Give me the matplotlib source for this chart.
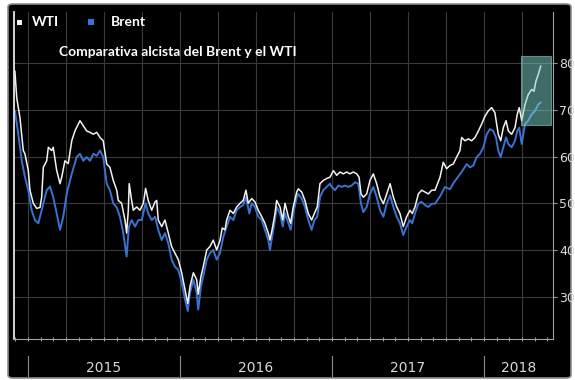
import matplotlib.pyplot as plt
from matplotlib.patches import Rectangle, FancyBboxPatch

# fechas en años decimales, precios en $/barril
wti_t = [2014.914, 2014.926, 2014.947, 2014.969, 2014.980, 2015.002, 2015.013, 2015.035, 2015.057, 2015.079,
         2015.090, 2015.101, 2015.123, 2015.134, 2015.156, 2015.166, 2015.189, 2015.211, 2015.222, 2015.243,
         2015.265, 2015.288, 2015.309, 2015.342, 2015.364, 2015.386, 2015.408, 2015.430, 2015.452, 2015.474,
         2015.495, 2015.518, 2015.539, 2015.561, 2015.584, 2015.594, 2015.616, 2015.638, 2015.649, 2015.660,
         2015.666, 2015.682, 2015.693, 2015.715, 2015.737, 2015.759, 2015.774, 2015.791, 2015.814, 2015.836,
         2015.847, 2015.857, 2015.880, 2015.901, 2015.923, 2015.945, 2015.967, 2015.989, 2016.011, 2016.033,
         2016.051, 2016.066, 2016.088, 2016.110, 2016.120, 2016.138, 2016.153, 2016.176, 2016.197, 2016.219,
         2016.241, 2016.263, 2016.278, 2016.296, 2016.307, 2016.329, 2016.351, 2016.373, 2016.395, 2016.416,
         2016.434, 2016.449, 2016.472, 2016.493, 2016.515, 2016.538, 2016.559, 2016.581, 2016.592, 2016.610,
         2016.625, 2016.636, 2016.658, 2016.676, 2016.691, 2016.713, 2016.728, 2016.745, 2016.768, 2016.778,
         2016.801, 2016.822, 2016.844, 2016.866, 2016.884, 2016.903, 2016.921, 2016.943, 2016.965, 2016.987,
         2017.009, 2017.031, 2017.053, 2017.074, 2017.097, 2017.118, 2017.140, 2017.163, 2017.178, 2017.191,
         2017.206, 2017.228, 2017.250, 2017.272, 2017.294, 2017.316, 2017.338, 2017.360, 2017.382, 2017.404,
         2017.426, 2017.447, 2017.469, 2017.491, 2017.513, 2017.528, 2017.546, 2017.568, 2017.590, 2017.612,
         2017.634, 2017.656, 2017.678, 2017.711, 2017.732, 2017.754, 2017.776, 2017.798, 2017.820, 2017.842,
         2017.853, 2017.875, 2017.897, 2017.919, 2017.941, 2017.963, 2017.985, 2018.007, 2018.028, 2018.051,
         2018.072, 2018.083, 2018.094, 2018.110, 2018.127, 2018.145, 2018.160, 2018.182, 2018.204, 2018.219,
         2018.232, 2018.248, 2018.270, 2018.291, 2018.314, 2018.329, 2018.342, 2018.357, 2018.373]
wti = [78.3, 72.6, 68.4, 61.3, 60.6, 57.0, 52.8, 50.0, 48.9, 49.1,
       51.3, 57.7, 59.1, 62.0, 61.3, 62.0, 57.0, 54.2, 55.6, 59.1,
       58.5, 63.4, 65.5, 67.7, 66.6, 65.5, 65.2, 64.8, 65.2, 64.1,
       63.4, 58.4, 57.7, 54.9, 52.8, 50.6, 50.0, 46.4, 43.6, 48.5,
       54.2, 50.6, 48.5, 49.2, 48.5, 50.0, 53.2, 50.6, 48.5, 50.3,
       50.6, 46.4, 45.0, 46.4, 43.6, 40.7, 39.3, 37.9, 35.1, 31.5,
       28.5, 32.2, 35.1, 33.6, 30.5, 34.3, 36.4, 40.0, 40.7, 42.1,
       40.0, 42.0, 44.7, 44.3, 46.4, 48.5, 47.8, 49.2, 50.0, 50.6,
       52.8, 50.0, 51.0, 50.3, 48.5, 47.1, 45.7, 43.6, 42.1, 45.0,
       47.8, 50.6, 49.2, 46.4, 50.0, 47.1, 45.7, 49.2, 52.4, 53.1,
       52.4, 50.6, 47.8, 46.4, 47.8, 49.2, 54.2, 54.9, 55.3, 55.6,
       57.0, 56.0, 56.7, 56.3, 56.7, 56.3, 56.7, 56.3, 55.6, 52.0,
       51.3, 52.0, 54.9, 56.3, 54.2, 51.3, 49.9, 52.0, 54.2, 51.3,
       49.2, 47.8, 45.0, 47.1, 48.5, 47.8, 49.2, 52.0, 52.8, 52.4,
       52.0, 52.8, 52.8, 55.6, 58.8, 57.4, 58.1, 58.4, 59.9, 61.3,
       64.1, 63.4, 63.8, 63.4, 64.1, 65.5, 67.0, 68.7, 69.8, 70.5,
       69.4, 67.0, 64.8, 63.4, 66.2, 67.7, 65.5, 64.8, 66.2, 69.1,
       70.5, 67.7, 71.2, 73.3, 74.4, 74.0, 76.2, 77.6, 79.4]

brent_t = [2014.914, 2014.936, 2014.959, 2014.980, 2015.002, 2015.024, 2015.046, 2015.068, 2015.090, 2015.123,
           2015.145, 2015.166, 2015.189, 2015.211, 2015.232, 2015.255, 2015.288, 2015.320, 2015.342, 2015.364,
           2015.386, 2015.408, 2015.430, 2015.452, 2015.474, 2015.495, 2015.518, 2015.539, 2015.561, 2015.584,
           2015.605, 2015.627, 2015.649, 2015.664, 2015.682, 2015.704, 2015.726, 2015.748, 2015.774, 2015.791,
           2015.814, 2015.836, 2015.857, 2015.880, 2015.901, 2015.923, 2015.945, 2015.967, 2015.989, 2016.011,
           2016.033, 2016.051, 2016.066, 2016.088, 2016.110, 2016.120, 2016.138, 2016.153, 2016.176, 2016.197,
           2016.219, 2016.241, 2016.263, 2016.285, 2016.307, 2016.329, 2016.351, 2016.373, 2016.395, 2016.416,
           2016.434, 2016.456, 2016.472, 2016.493, 2016.515, 2016.538, 2016.559, 2016.581, 2016.592, 2016.610,
           2016.625, 2016.636, 2016.658, 2016.676, 2016.691, 2016.713, 2016.728, 2016.745, 2016.768, 2016.778,
           2016.801, 2016.822, 2016.844, 2016.866, 2016.884, 2016.903, 2016.921, 2016.943, 2016.965, 2016.987,
           2016.998, 2017.020, 2017.042, 2017.064, 2017.086, 2017.107, 2017.130, 2017.151, 2017.173, 2017.191,
           2017.206, 2017.228, 2017.250, 2017.272, 2017.294, 2017.316, 2017.338, 2017.360, 2017.382, 2017.404,
           2017.426, 2017.447, 2017.469, 2017.491, 2017.513, 2017.528, 2017.546, 2017.568, 2017.590, 2017.612,
           2017.634, 2017.656, 2017.678, 2017.711, 2017.743, 2017.776, 2017.803, 2017.853, 2017.886, 2017.908,
           2017.930, 2017.952, 2017.974, 2017.996, 2018.018, 2018.039, 2018.061, 2018.079, 2018.094, 2018.110,
           2018.127, 2018.145, 2018.160, 2018.182, 2018.204, 2018.219, 2018.232, 2018.248, 2018.270, 2018.291,
           2018.314, 2018.336, 2018.357, 2018.373]
brent = [69.8, 64.9, 59.1, 55.6, 52.8, 48.5, 46.4, 45.7, 48.5, 52.8,
         53.6, 51.3, 47.8, 44.3, 47.1, 52.1, 56.3, 59.9, 60.6, 59.1,
         59.9, 59.1, 60.6, 60.2, 61.3, 59.9, 54.2, 52.8, 50.0, 49.1,
         47.1, 43.6, 38.6, 45.0, 46.4, 45.0, 46.4, 46.4, 50.0, 47.8,
         46.4, 47.1, 44.3, 42.1, 43.6, 41.4, 37.9, 36.4, 35.7, 33.0,
         29.4, 26.9, 30.8, 33.6, 30.8, 27.2, 32.2, 34.3, 37.9, 39.3,
         40.0, 37.9, 39.3, 42.8, 45.0, 47.1, 46.4, 48.5, 49.2, 49.6,
         51.3, 47.8, 50.0, 49.2, 47.1, 46.4, 44.3, 42.1, 40.0, 43.6,
         46.4, 49.2, 47.8, 45.0, 47.8, 45.7, 44.3, 47.8, 51.3, 52.0,
         51.0, 49.2, 46.4, 44.3, 46.4, 47.1, 51.3, 52.8, 53.5, 54.2,
         53.5, 52.8, 53.8, 53.5, 53.8, 53.5, 53.8, 54.5, 54.2, 49.9,
         48.1, 49.2, 52.0, 53.5, 51.3, 48.5, 47.1, 49.9, 51.7, 49.2,
         47.1, 45.7, 43.2, 45.0, 46.4, 45.7, 47.8, 49.9, 50.3, 49.6,
         49.2, 49.9, 49.9, 51.5, 53.5, 53.0, 54.5, 56.7, 58.4, 57.7,
         58.1, 59.9, 60.6, 62.0, 64.8, 65.9, 65.5, 64.1, 61.3, 59.9,
         62.0, 64.1, 62.7, 62.0, 63.4, 65.5, 66.2, 62.7, 67.0, 67.7,
         69.1, 69.8, 71.2, 71.6]

years = [2015, 2016, 2017, 2018]
y_ticks = [30, 40, 50, 60, 70, 80]
titulo = 'Comparativa alcista del Brent y el WTI'

x_min, x_max = 2014.908, 2018.454
y_min, y_max = 20.9, 91.0

W, H = 575, 380
narrow = ['Liberation Sans Narrow', 'DejaVu Sans']

fig = plt.figure(figsize=(W / 100, H / 100), dpi=100)
fig.patch.set_facecolor('white')

# marco negro de fondo
fondo = FancyBboxPatch((8 / W, 2 / H), 563 / W, 374 / H,
                       boxstyle='round,pad=0,rounding_size=0.008',
                       transform=fig.transFigure, fc='black', ec='#8c8c8c',
                       lw=1.2, zorder=-1)
fig.patches.append(fondo)

ax = fig.add_axes([14 / W, 41 / H, 539 / W, 327 / H])
ax.set_facecolor('black')
ax.set_xlim(x_min, x_max)
ax.set_ylim(y_min, y_max)

# rejilla trimestral y cada 10 $
quarters = [y + q / 4 for y in range(2015, 2019) for q in range(4) if y + q / 4 < x_max]
months = [y + m / 12 for y in range(2014, 2019) for m in range(12) if x_min < y + m / 12 < x_max]
ax.set_xticks(quarters)
ax.set_xticks(months, minor=True)
ax.set_xticklabels([])
ax.set_yticks(y_ticks)
ax.grid(True, color='#3a3a3a', lw=0.8)
ax.tick_params(axis='x', which='both', colors='#9a9a9a', length=2.5, direction='inout', width=0.8)

ax.yaxis.tick_right()
ax.tick_params(axis='y', colors='#9a9a9a', length=3, width=0.8, pad=1.5, labelcolor='#dcdcdc', labelsize=9)
for lab in ax.get_yticklabels():
    lab.set_family(narrow)

for s in ['top']:
    ax.spines[s].set_visible(False)
ax.spines['left'].set_color('#e6e6e6')
ax.spines['left'].set_linewidth(1.3)
ax.spines['bottom'].set_color('#a0a0a0')
ax.spines['right'].set_color('#a0a0a0')

# series
ax.plot(brent_t, brent, color='#3a72d0', lw=1.4, zorder=2)
ax.plot(wti_t, wti, color='#f2f2f2', lw=1.1, zorder=2)

# recuadro de la subida reciente
ax.add_patch(Rectangle((2018.241, 66.8), 0.198, 14.7, fc='#7fd8cc', alpha=0.5,
                       ec='#a8e6de', lw=0.8, zorder=3))

# etiquetas de años con separadores
trans = ax.get_xaxis_transform()
for yr in years:
    a = max(yr, x_min)
    b = min(yr + 1, x_max)
    ax.text((a + b) / 2, -0.089, str(yr), transform=trans, ha='center', va='center',
            color='#d8d8d8', fontsize=10, family=narrow)
    ax.plot([yr, yr], [-0.052, -0.113], transform=trans, color='#8c8c8c', lw=0.8, clip_on=False)

# leyenda y titulo
fig.patches.append(Rectangle((17 / W, (H - 25) / H), 5 / W, 5 / H, transform=fig.transFigure,
                             fc='#f2f2f2', ec='none'))
fig.patches.append(Rectangle((88 / W, (H - 25) / H), 6 / W, 6 / H, transform=fig.transFigure,
                             fc='#3a72d0', ec='none'))
fig.text(32 / W, (H - 22) / H, 'WTI', color='white', fontsize=10, fontweight='bold',
         family='Lato', va='center')
fig.text(111 / W, (H - 22) / H, 'Brent', color='white', fontsize=10, fontweight='bold',
         family='Lato', va='center')
fig.text(59 / W, (H - 52) / H, titulo, color='white', fontsize=10, fontweight='bold',
         family='Lato', va='center')

fig.savefig('out.png', dpi=100, facecolor='white')
